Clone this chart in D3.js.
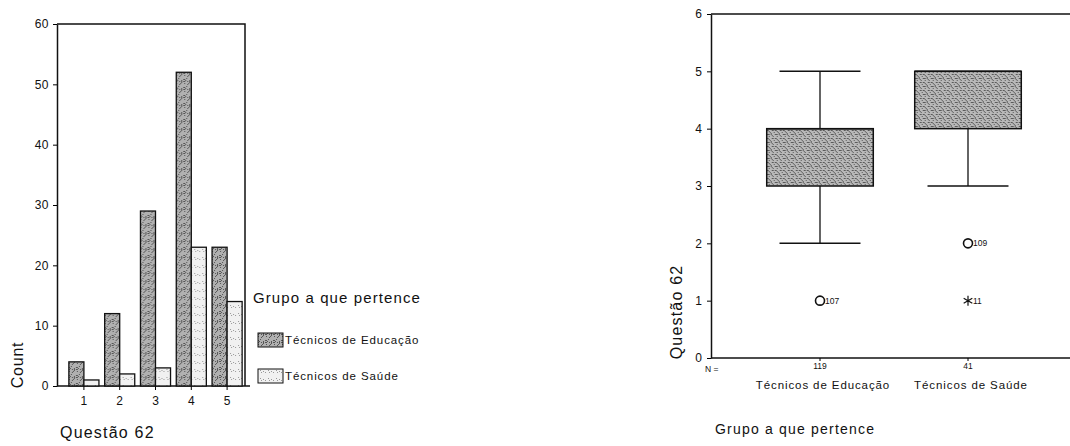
<!DOCTYPE html>
<html><head><meta charset="utf-8">
<script src="https://cdn.jsdelivr.net/npm/d3@7"></script>
<style>body{margin:0;background:#fff}svg{display:block}text{font-family:"Liberation Sans",Arial,sans-serif;fill:#111}</style>
</head><body>
<svg id="c" width="1070" height="446"></svg>
<script>
// ---- Data ----
const categories = ["1","2","3","4","5"];
const seriesNames = ["Técnicos de Educação","Técnicos de Saúde"];
const educacao = [4,12,29,52,23];
const saude = [1,2,3,23,14];
const countTicks = [0,10,20,30,40,50,60];

const groups = ["Técnicos de Educação","Técnicos de Saúde"];
const groupN = [119,41];
const whiskLow = [2,3];
const q1 = [3,4];
const median = [4,5];
const q3 = [4,5];
const whiskHigh = [5,5];
const outliers = [
  {group:"Técnicos de Educação", value:1, label:"107", type:"o"},
  {group:"Técnicos de Saúde", value:2, label:"109", type:"o"},
  {group:"Técnicos de Saúde", value:1, label:"11", type:"*"}
];
const q62Ticks = [0,1,2,3,4,5,6];

const svg = d3.select("#c");
const defs = svg.append("defs");
function stipple(id, bg, dot, n, seed){
  const p = defs.append("pattern").attr("id",id).attr("patternUnits","userSpaceOnUse").attr("width",8).attr("height",8);
  p.append("rect").attr("width",8).attr("height",8).attr("fill",bg);
  let s = seed;
  for(let i=0;i<n;i++){ s=(s*9301+49297)%233280; const x=Math.floor(s/233280*8); s=(s*9301+49297)%233280; const y=Math.floor(s/233280*8);
    p.append("rect").attr("x",x).attr("y",y).attr("width",1).attr("height",1).attr("fill",dot);}
}
stipple("dark","#b0b0b0","#555",16,7);
stipple("light","#f1f1f1","#999",5,3);
stipple("box","#b8b8b8","#5a5a5a",16,11);

// ---- Left: grouped bar chart ----
const L = {left:57, right:245, top:24, bottom:386};
const y1 = d3.scaleLinear().domain([0,60]).range([L.bottom,L.top]);
const x1 = d3.scaleBand().domain(categories).range([66,245]).paddingInner(0.16).paddingOuter(0.08);
const xs = d3.scaleBand().domain(seriesNames).range([0,x1.bandwidth()]);
const gL = svg.append("g");
gL.append("path").attr("d",`M${L.left},${L.top}H${L.right}V${L.bottom}`).attr("fill","none").attr("stroke","#111").attr("stroke-width",1.5);
const yAx = gL.append("g").attr("transform",`translate(${L.left},0)`)
  .call(d3.axisLeft(y1).tickValues(countTicks).tickSize(4).tickSizeOuter(0));
yAx.select(".domain").attr("stroke","#111").attr("stroke-width",1.5);
yAx.selectAll("text").attr("font-size",12).attr("letter-spacing",0.5).attr("dx",-1);
const xAx = gL.append("g").attr("transform",`translate(0,${L.bottom})`)
  .call(d3.axisBottom(x1).tickSize(4).tickSizeOuter(0));
xAx.select(".domain").attr("d",`M${L.left},0H250`).attr("stroke","#111").attr("stroke-width",1.5);
xAx.selectAll("text").attr("font-size",12).attr("dy","1.0em");
const data = categories.map((c,i)=>({c, vals:[educacao[i], saude[i]]}));
const grp = gL.selectAll("g.grp").data(data).join("g").attr("class","grp").attr("transform",d=>`translate(${x1(d.c)},0)`);
grp.selectAll("rect").data(d=>d.vals.map((v,j)=>({v,s:seriesNames[j]}))).join("rect")
  .attr("x",d=>xs(d.s)).attr("width",xs.bandwidth()).attr("y",d=>y1(d.v)).attr("height",d=>y1(0)-y1(d.v))
  .attr("fill",(d)=>d.s===seriesNames[0]?"url(#dark)":"url(#light)").attr("stroke","#111").attr("stroke-width",1.3);
gL.append("text").attr("transform","translate(23,365) rotate(-90)").attr("text-anchor","middle").attr("font-size",16).attr("letter-spacing",0.8).text("Count");
gL.append("text").attr("x",60).attr("y",438).attr("font-size",16).attr("letter-spacing",1.2).text("Questão 62");
// legend
gL.append("text").attr("x",253).attr("y",303).attr("font-size",15).attr("letter-spacing",1.1).text("Grupo a que pertence");
const leg = gL.selectAll("g.leg").data(seriesNames).join("g").attr("class","leg").attr("transform",(d,i)=>`translate(258,${333+i*36})`);
leg.append("rect").attr("width",25).attr("height",14).attr("fill",(d,i)=>i===0?"url(#dark)":"url(#light)").attr("stroke","#111").attr("stroke-width",1);
leg.append("text").attr("x",27).attr("y",11).attr("font-size",11.5).attr("letter-spacing",0.9).text(d=>d);

// ---- Right: boxplot ----
const R = {left:711, right:1070, top:14, bottom:358};
const y2 = d3.scaleLinear().domain([0,6]).range([R.bottom,R.top]);
const x2 = d3.scaleBand().domain(groups).range([746,1042]).paddingInner(0.28).paddingOuter(0.14);
const gR = svg.append("g");
gR.append("path").attr("d",`M${R.right},${R.top}H${R.left}`).attr("fill","none").attr("stroke","#111").attr("stroke-width",1.5);
const yAx2 = gR.append("g").attr("transform",`translate(${R.left},0)`)
  .call(d3.axisLeft(y2).tickValues(q62Ticks).tickSize(4).tickSizeOuter(0).tickFormat(d3.format("d")));
yAx2.select(".domain").attr("stroke","#111").attr("stroke-width",1.5);
yAx2.selectAll("text").attr("font-size",12).attr("dx",-2);
const xAx2 = gR.append("g").attr("transform",`translate(0,${R.bottom})`)
  .call(d3.axisBottom(x2).tickSize(3).tickSizeOuter(0).tickFormat((d,i)=>groupN[i]));
xAx2.select(".domain").attr("d",`M${R.left},0H${R.right}`).attr("stroke","#111").attr("stroke-width",1.5);
xAx2.selectAll("text").attr("font-size",8.5).attr("dy","0.6em");
gR.append("text").attr("x",705).attr("y",372).attr("font-size",8.5).text("N =");
gR.selectAll("text.cat").data(groups).join("text").attr("class","cat")
  .attr("x",d=>x2(d)+x2.bandwidth()/2+3).attr("y",389).attr("text-anchor","middle").attr("font-size",11.5).attr("letter-spacing",0.9).text(d=>d);
gR.append("text").attr("transform","translate(682,312) rotate(-90)").attr("text-anchor","middle").attr("font-size",16).attr("letter-spacing",1.2).text("Questão 62");
gR.append("text").attr("x",715).attr("y",434).attr("font-size",14).attr("letter-spacing",1.2).text("Grupo a que pertence");
const boxes = groups.map((g,i)=>({g,lo:whiskLow[i],q1:q1[i],med:median[i],q3:q3[i],hi:whiskHigh[i]}));
const bw = x2.bandwidth();
const bg = gR.selectAll("g.box").data(boxes).join("g").attr("class","box").attr("transform",d=>`translate(${x2(d.g)},0)`);
bg.append("line").attr("x1",bw/2).attr("x2",bw/2).attr("y1",d=>y2(d.lo)).attr("y2",d=>y2(d.hi)).attr("stroke","#111").attr("stroke-width",1.3);
bg.filter(d=>d.hi>d.q3).append("line").attr("x1",bw*0.12).attr("x2",bw*0.88).attr("y1",d=>y2(d.hi)).attr("y2",d=>y2(d.hi)).attr("stroke","#111").attr("stroke-width",1.5);
bg.filter(d=>d.lo<d.q1).append("line").attr("x1",bw*0.12).attr("x2",bw*0.88).attr("y1",d=>y2(d.lo)).attr("y2",d=>y2(d.lo)).attr("stroke","#111").attr("stroke-width",1.5);
bg.append("rect").attr("x",0).attr("width",bw).attr("y",d=>y2(d.q3)).attr("height",d=>y2(d.q1)-y2(d.q3))
  .attr("fill","url(#box)").attr("stroke","#111").attr("stroke-width",1.5);
bg.append("line").attr("x1",0).attr("x2",bw).attr("y1",d=>y2(d.med)).attr("y2",d=>y2(d.med)).attr("stroke","#111").attr("stroke-width",1.5);
const og = gR.selectAll("g.out").data(outliers).join("g").attr("class","out")
  .attr("transform",d=>`translate(${x2(d.group)+bw/2},${y2(d.value)})`);
og.filter(d=>d.type==="o").append("circle").attr("r",4.5).attr("fill","none").attr("stroke","#111").attr("stroke-width",1.6);
og.filter(d=>d.type==="*").append("path").attr("d",d3.symbol(d3.symbolAsterisk,70)).attr("fill","none").attr("stroke","#111").attr("stroke-width",1.2);
og.append("text").attr("x",5).attr("dy","0.35em").attr("font-size",8.5).text(d=>d.label);
</script>
</body></html>
